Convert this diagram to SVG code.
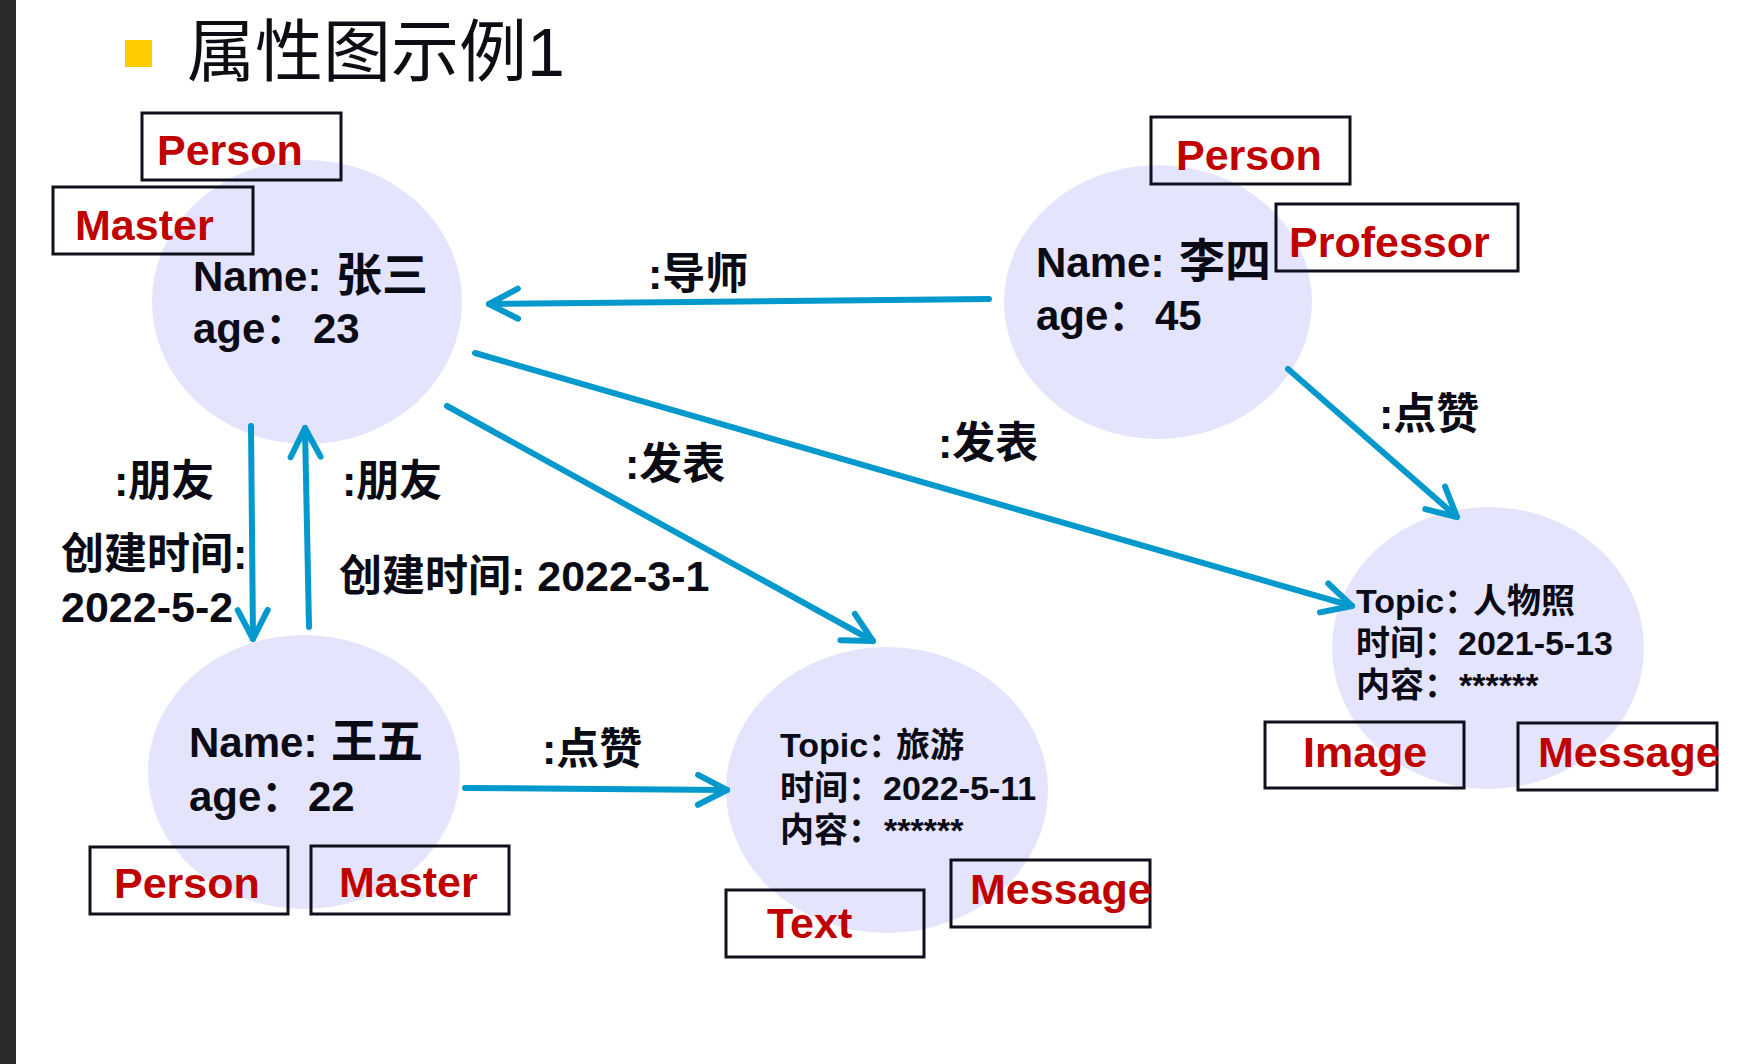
<svg xmlns="http://www.w3.org/2000/svg" width="1740" height="1064" viewBox="0 0 1740 1064">
  <defs>
    <style>
      .node { fill: #e4e4fc; }
      .tag { fill: none; stroke: #10101c; stroke-width: 3; }
      .tag-text { font-family: "Liberation Sans", Arial, sans-serif; font-weight: bold; font-size: 43px; fill: #c00000; }
      .prop { font-family: "Liberation Sans", "Noto Sans CJK SC", sans-serif; font-weight: bold; font-size: 42px; fill: #0b0b16; }
      .prop .cjk { font-size: 46px; }
      .prop-sm { font-family: "Liberation Sans", "Noto Sans CJK SC", sans-serif; font-weight: bold; font-size: 34px; fill: #0b0b16; }
      .edge { fill: none; stroke: #0399cd; stroke-width: 6; stroke-linecap: round; marker-end: url(#arrow); }
      .edge-text { font-family: "Liberation Sans", "Noto Sans CJK SC", sans-serif; font-weight: bold; font-size: 43px; fill: #0b0b16; }
      .title { font-family: "Liberation Sans", "Noto Sans CJK SC", sans-serif; font-size: 68px; fill: #0d0d14; }
    </style>
    <marker id="arrow" markerUnits="userSpaceOnUse" viewBox="-40 -22 46 44" refX="0" refY="0" markerWidth="46" markerHeight="44" orient="auto" overflow="visible">
      <path d="M-29,-15 L0,0 L-29,15" fill="none" stroke="#0399cd" stroke-width="6" stroke-linecap="round" stroke-linejoin="round"/>
    </marker>
  </defs>

  <rect x="0" y="0" width="1740" height="1064" fill="#ffffff"/>
  <rect x="0" y="0" width="16" height="1064" fill="#2b2b2b"/>

  <!-- heading -->
  <g id="heading">
    <rect x="125" y="40" width="27" height="27" fill="#ffcc00"/>
    <text class="title" x="187" y="76">属性图示例1</text>
  </g>

  <!-- 张三 -->
  <g id="node-zhangsan">
    <ellipse class="node" cx="307" cy="302" rx="155" ry="142"/>
    <rect class="tag" x="142" y="113" width="199" height="67"/>
    <text class="tag-text" x="157" y="165">Person</text>
    <rect class="tag" x="53" y="187" width="200" height="67"/>
    <text class="tag-text" x="75" y="240">Master</text>
    <text class="prop" x="193" y="291">Name:<tspan class="cjk" x="336">张三</tspan></text>
    <text class="prop" x="193" y="343">age：<tspan x="313">23</tspan></text>
  </g>

  <!-- 李四 -->
  <g id="node-lisi">
    <ellipse class="node" cx="1158" cy="302" rx="154" ry="137"/>
    <rect class="tag" x="1151" y="117" width="199" height="67"/>
    <text class="tag-text" x="1176" y="170">Person</text>
    <rect class="tag" x="1276" y="204" width="242" height="67"/>
    <text class="tag-text" x="1289" y="257">Professor</text>
    <text class="prop" x="1036" y="277">Name:<tspan class="cjk" x="1179">李四</tspan></text>
    <text class="prop" x="1036" y="330">age：<tspan x="1155">45</tspan></text>
  </g>

  <!-- 王五 -->
  <g id="node-wangwu">
    <ellipse class="node" cx="304" cy="772" rx="156" ry="137"/>
    <text class="prop" x="189" y="757">Name:<tspan class="cjk" x="331">王五</tspan></text>
    <text class="prop" x="189" y="811">age：<tspan x="308">22</tspan></text>
    <rect class="tag" x="90" y="847" width="198" height="67"/>
    <text class="tag-text" x="114" y="898">Person</text>
    <rect class="tag" x="311" y="846" width="198" height="68"/>
    <text class="tag-text" x="339" y="897">Master</text>
  </g>

  <!-- 旅游 message -->
  <g id="node-travel">
    <ellipse class="node" cx="887" cy="790" rx="161" ry="143"/>
    <text class="prop-sm" x="780" y="757">Topic：<tspan x="896">旅游</tspan></text>
    <text class="prop-sm" x="780" y="800">时间：<tspan x="883">2022-5-11</tspan></text>
    <text class="prop-sm" x="780" y="842">内容：<tspan x="884">******</tspan></text>
    <rect class="tag" x="726" y="890" width="198" height="67"/>
    <text class="tag-text" x="767" y="938">Text</text>
    <rect class="tag" x="951" y="860" width="199" height="67"/>
    <text class="tag-text" x="970" y="904">Message</text>
  </g>

  <!-- 人物照 message -->
  <g id="node-portrait">
    <ellipse class="node" cx="1488" cy="648" rx="156" ry="141"/>
    <text class="prop-sm" x="1356" y="613">Topic：<tspan x="1473">人物照</tspan></text>
    <text class="prop-sm" x="1356" y="655">时间：<tspan x="1458">2021-5-13</tspan></text>
    <text class="prop-sm" x="1356" y="697">内容：<tspan x="1459">******</tspan></text>
    <rect class="tag" x="1265" y="722" width="199" height="66"/>
    <text class="tag-text" x="1303" y="767">Image</text>
    <rect class="tag" x="1518" y="723" width="199" height="67"/>
    <text class="tag-text" x="1538" y="767">Message</text>
  </g>

  <!-- relationships -->
  <g id="edges">
    <line class="edge" x1="989" y1="299" x2="489" y2="304"/>
    <line class="edge" x1="251" y1="426" x2="253" y2="639"/>
    <line class="edge" x1="309" y1="627" x2="305" y2="428"/>
    <line class="edge" x1="447" y1="406" x2="873" y2="641"/>
    <line class="edge" x1="475" y1="353" x2="1352" y2="606"/>
    <line class="edge" x1="1288" y1="369" x2="1457" y2="517"/>
    <line class="edge" x1="465" y1="788" x2="727" y2="790"/>

    <text class="edge-text" x="648" y="289">:导师</text>
    <text class="edge-text" x="114" y="496">:朋友</text>
    <text class="edge-text" x="61" y="569">创建时间:</text>
    <text class="edge-text" x="61" y="622">2022-5-2</text>
    <text class="edge-text" x="342" y="496">:朋友</text>
    <text class="edge-text" x="339" y="591">创建时间: 2022-3-1</text>
    <text class="edge-text" x="625" y="479">:发表</text>
    <text class="edge-text" x="938" y="458">:发表</text>
    <text class="edge-text" x="1379" y="429">:点赞</text>
    <text class="edge-text" x="542" y="764">:点赞</text>
  </g>
</svg>
